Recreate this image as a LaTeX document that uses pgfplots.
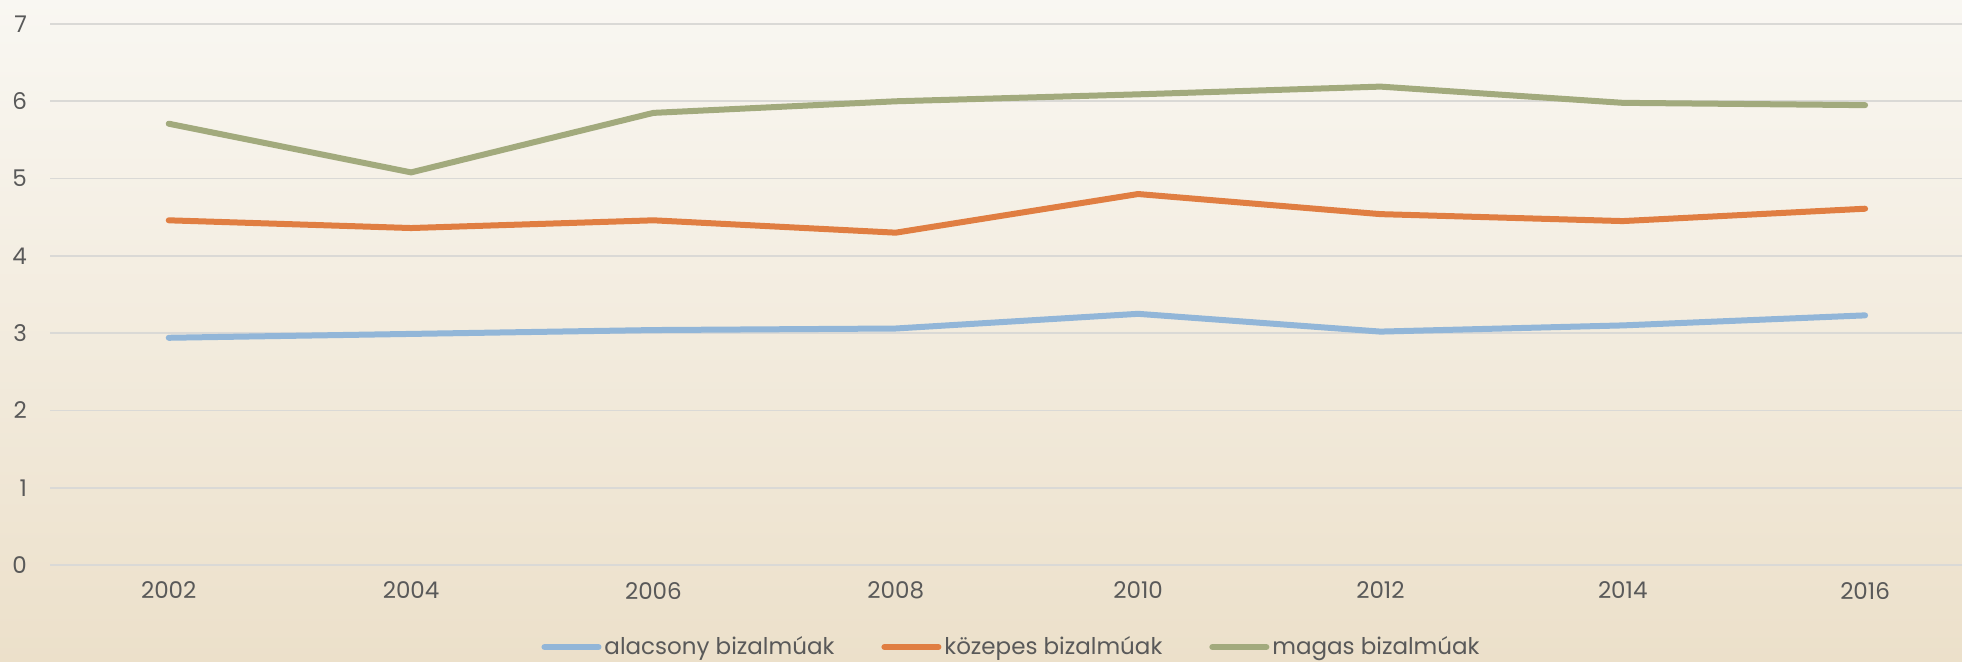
\documentclass[border=0pt]{standalone}
\usepackage{pgfplots}
\pgfplotsset{compat=1.18}
\usepackage{fontspec}
\setmainfont{Poppins}
\definecolor{bgtop}{RGB}{249,247,242}
\definecolor{bgbot}{RGB}{236,224,202}
\definecolor{gridc}{RGB}{218,217,214}
\definecolor{txt}{RGB}{89,89,89}
\definecolor{cblue}{RGB}{146,182,216}
\definecolor{corange}{RGB}{224,126,66}
\definecolor{cgreen}{RGB}{162,170,125}
\begin{document}
\begin{tikzpicture}
\useasboundingbox (0,0) rectangle (981pt,331pt);
\shade[top color=bgtop, bottom color=bgbot] (0,0) rectangle (981pt,331pt);
\begin{axis}[
  at={(25pt,48.5pt)}, anchor=south west,
  scale only axis, width=956pt, height=270.5pt,
  xmin=-0.49, xmax=7.4, ymin=0, ymax=7,
  axis line style={draw=none},
  xtick=data, xticklabels={2002,2004,2006,2008,2010,2012,2014,2016},
  ytick={0,1,...,7},
  major tick length=0pt,
  ymajorgrids, grid style={gridc, line width=0.9pt},
  tick label style={font=\fontsize{11.5}{13}\selectfont, text=txt},
  /pgf/number format/assume math mode=true,
  xticklabel style={yshift=-5pt},
  yticklabel style={xshift=-8pt},
  legend style={at={(0.5,0)}, yshift=-41pt, xshift=3pt, anchor=center, draw=none, fill=none,
    font=\fontsize{11.5}{13}\selectfont, text=txt, column sep=0pt,
    nodes={inner xsep=1.5pt},
    /tikz/every even column/.append style={column sep=22pt}},
  legend columns=3,
  legend image code/.code={\draw[#1, line width=3pt, line cap=round] (0pt,0pt) -- (27pt,0pt);},
  every axis plot/.append style={line width=3pt, line cap=round, line join=round},
]
\addplot[cblue] coordinates {(0,2.94) (1,2.99) (2,3.04) (3,3.06) (4,3.25) (5,3.02) (6,3.10) (7,3.23)};
\addlegendentry{alacsony bizalmúak}
\addplot[corange] coordinates {(0,4.46) (1,4.36) (2,4.46) (3,4.30) (4,4.80) (5,4.54) (6,4.45) (7,4.61)};
\addlegendentry{közepes bizalmúak}
\addplot[cgreen] coordinates {(0,5.71) (1,5.08) (2,5.85) (3,6.00) (4,6.09) (5,6.19) (6,5.98) (7,5.95)};
\addlegendentry{magas bizalmúak}
\end{axis}
\end{tikzpicture}
\end{document}
